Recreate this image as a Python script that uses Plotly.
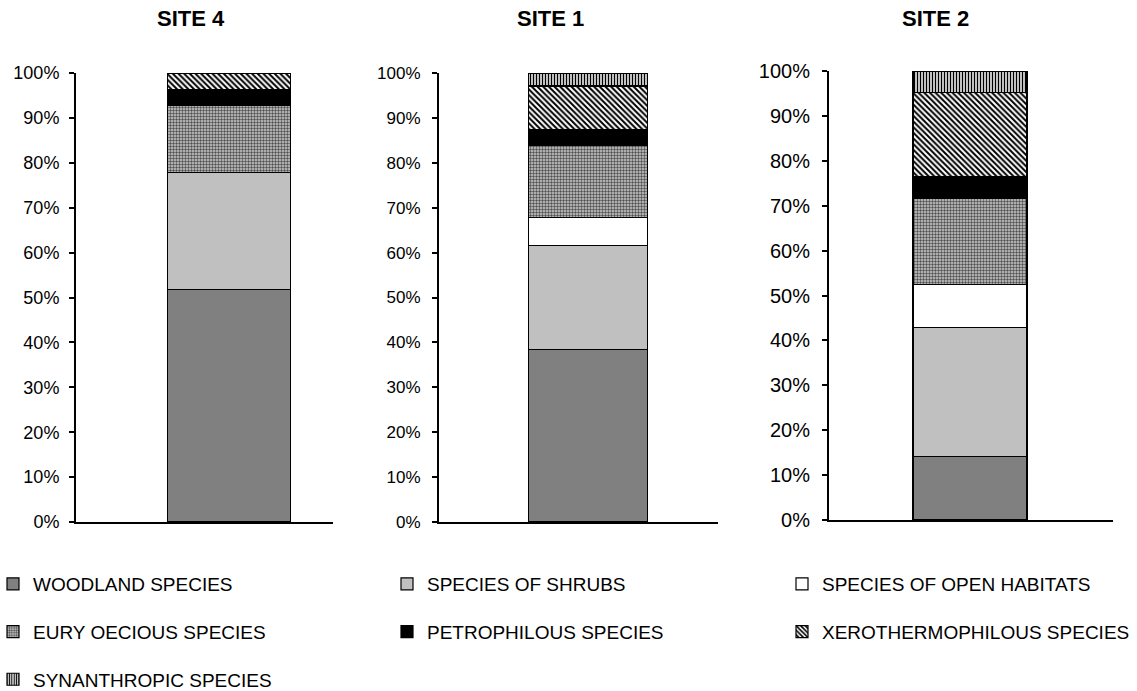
import plotly.graph_objects as go

sites = ["SITE 4", "SITE 1", "SITE 2"]
categories = [
    "WOODLAND SPECIES",
    "SPECIES OF SHRUBS",
    "SPECIES OF OPEN HABITATS",
    "EURYOECIOUS SPECIES",
    "PETROPHILOUS SPECIES",
    "XEROTHERMOPHILOUS SPECIES",
    "SYNANTHROPIC SPECIES",
]
legend_labels = [
    "WOODLAND SPECIES",
    "SPECIES OF SHRUBS",
    "SPECIES OF OPEN HABITATS",
    "EURY OECIOUS SPECIES",
    "PETROPHILOUS SPECIES",
    "XEROTHERMOPHILOUS SPECIES",
    "SYNANTHROPIC SPECIES",
]
# percentage shares per site, in category order
site4_values = [51.8, 26.0, 0.0, 14.9, 3.7, 3.6, 0.0]
site1_values = [38.5, 23.1, 6.2, 16.1, 3.4, 9.8, 2.9]
site2_values = [14.1, 28.8, 9.5, 19.3, 4.8, 18.7, 4.8]
y_ticks = [0, 10, 20, 30, 40, 50, 60, 70, 80, 90, 100]
y_tick_labels = [f"{v}%" for v in y_ticks]

site_values = [site4_values, site1_values, site2_values]

W, H = 1137, 691
# subplot pixel boxes (left, right, top, bottom)
boxes = [(76, 333, 73, 522), (439, 718, 73, 522), (829, 1113, 71, 520)]
xranges = [[-1.244, 0.846], [-1.252, 1.092], [-1.237, 1.254]]
tick_font_sizes = [18, 17, 20]
tick_standoffs = [6, 8, 8]
title_x = [191, 550, 935]

styles = [
    dict(color="#808080"),
    dict(color="#C0C0C0"),
    dict(color="#FFFFFF"),
    dict(color="#A8A8A8", pattern=dict(shape=".", fgcolor="#505050", bgcolor="#CCCCCC",
                                       size=3, solidity=0.5, fillmode="replace")),
    dict(color="#000000"),
    dict(color="#FFFFFF", pattern=dict(shape="\\", fgcolor="#000000", bgcolor="#FFFFFF",
                                       size=4, solidity=0.5, fillmode="replace")),
    dict(color="#FFFFFF", pattern=dict(shape="|", fgcolor="#000000", bgcolor="#FFFFFF",
                                       size=3, solidity=0.5, fillmode="replace")),
]
legend_of = ["legend", "legend2", "legend3", "legend", "legend2", "legend3", "legend"]

fig = go.Figure()
for si, site in enumerate(sites):
    xa = "x" if si == 0 else f"x{si+1}"
    ya = "y" if si == 0 else f"y{si+1}"
    for ci, cat in enumerate(categories):
        st = styles[ci]
        marker = dict(color=st["color"], line=dict(color="#000000", width=1.2))
        if "pattern" in st:
            marker["pattern"] = st["pattern"]
        fig.add_trace(go.Bar(
            x=[site], y=[site_values[si][ci]], name=legend_labels[ci],
            marker=marker, width=1,
            xaxis=xa, yaxis=ya,
            showlegend=(si == 0), legendgroup=cat, legend=legend_of[ci],
            hovertemplate=f"{site}<br>{cat}: %{{y:.1f}}%<extra></extra>",
        ))

layout = dict(
    width=W, height=H, barmode="stack",
    paper_bgcolor="white", plot_bgcolor="white",
    margin=dict(l=0, r=0, t=0, b=0, pad=0, autoexpand=False),
    font=dict(family="Liberation Sans, Arial, sans-serif", color="#000000"),
)
for si in range(3):
    l, r, t, b = boxes[si]
    xk = "xaxis" if si == 0 else f"xaxis{si+1}"
    yk = "yaxis" if si == 0 else f"yaxis{si+1}"
    layout[xk] = dict(domain=[l / W, r / W], range=xranges[si], showticklabels=False,
                      showgrid=False, zeroline=False, showline=True, linecolor="#000000",
                      linewidth=1.5, ticks="", fixedrange=True, automargin=False,
                      anchor="y" if si == 0 else f"y{si+1}")
    layout[yk] = dict(domain=[(H - b) / H, (H - t) / H], range=[0, 100],
                      tickmode="array", tickvals=y_ticks, ticktext=y_tick_labels,
                      showgrid=False, zeroline=False,
                      showline=True, linecolor="#000000", linewidth=2,
                      ticks="outside", ticklen=5, tickwidth=2, tickcolor="#000000",
                      ticklabelstandoff=tick_standoffs[si],
                      tickfont=dict(size=tick_font_sizes[si]), fixedrange=True,
                      automargin=False,
                      anchor="x" if si == 0 else f"x{si+1}")

legend_common = dict(orientation="v", font=dict(size=19), bgcolor="rgba(0,0,0,0)",
                     tracegroupgap=20, xanchor="left", yanchor="top",
                     itemclick=False, itemdoubleclick=False)
layout["legend"] = dict(legend_common, x=-7 / W, y=(H - 565) / H)
layout["legend2"] = dict(legend_common, x=387 / W, y=(H - 565) / H)
layout["legend3"] = dict(legend_common, x=782 / W, y=(H - 565) / H)

annotations = []
for si, site in enumerate(sites):
    annotations.append(dict(text=f"<b>{site}</b>", x=title_x[si] / W, y=(H - 18) / H,
                            xref="paper", yref="paper", showarrow=False,
                            xanchor="center", yanchor="middle",
                            font=dict(size=22, color="#000000")))
layout["annotations"] = annotations

fig.update_layout(**layout)
fig.write_html("out.html", config={"displayModeBar": False},
               post_script="document.body.style.margin='0px';document.body.style.padding='0px';")
